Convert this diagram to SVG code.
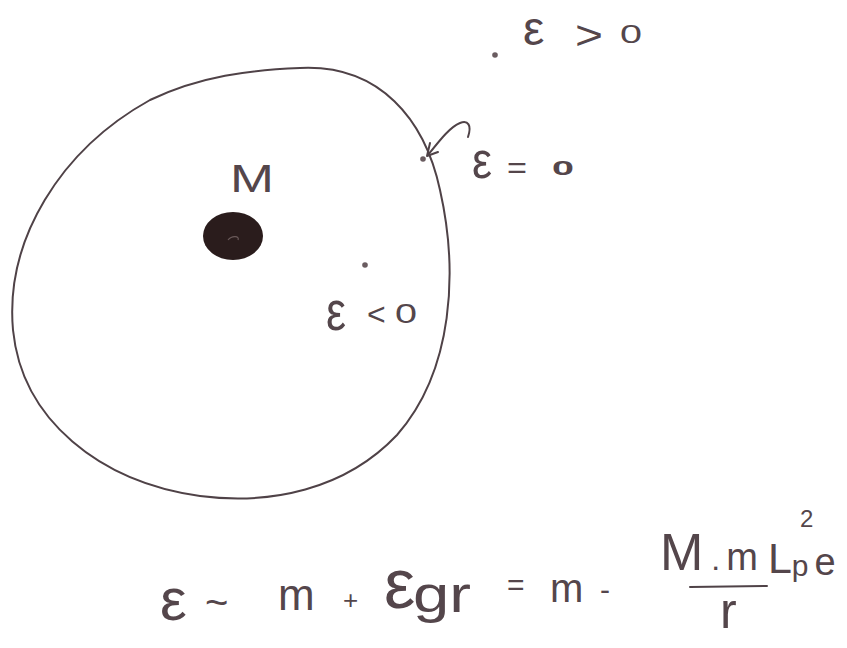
<svg xmlns="http://www.w3.org/2000/svg" width="847" height="648" viewBox="0 0 847 648">
<style>
.ink{fill:none;stroke:#4f4247;stroke-width:2;stroke-linecap:round;stroke-linejoin:round}
.t{font-family:"Liberation Sans",Arial,sans-serif;fill:#54464b}
.dot{fill:#6a5c60}
</style>
<rect width="847" height="648" fill="#ffffff"/>
<g id="boundary">
<path class="ink" d="M 300 68 C 380 64, 425 120, 440 190 C 458 270, 454 370, 397 435 C 345 490, 270 505, 200 496 C 100 482, 22 420, 13 330 C 5 240, 60 150, 150 100 C 200 76, 250 70, 300 68 Z"/>
</g>
<g id="mass">
<ellipse cx="233" cy="236" rx="30" ry="24" fill="#2a1c1c"/>
<path d="M 228 240 C 232 235, 240 236, 238 240" fill="none" stroke="#6a5a5a" stroke-width="1.2"/>
<text class="t" x="230" y="192" font-size="38" textLength="44" lengthAdjust="spacingAndGlyphs">M</text>
</g>
<g id="outside">
<circle class="dot" cx="495" cy="55" r="2.8"/>
<text class="t" x="523" y="45" font-size="48">ε</text>
<text class="t" x="575" y="49" font-size="40" textLength="28" lengthAdjust="spacingAndGlyphs">&gt;</text>
<text class="t" x="620" y="43" font-size="26" textLength="22" lengthAdjust="spacingAndGlyphs">0</text>
</g>
<g id="onboundary">
<circle class="dot" cx="423" cy="159" r="2.8"/>
<path class="ink" d="M 468 137 C 472 125, 468 120, 460 123 C 450 127, 440 140, 428 155"/>
<path class="ink" d="M 430 143 L 427 156 L 438 152"/>
<text class="t" x="472" y="178" font-size="52" textLength="20" lengthAdjust="spacingAndGlyphs">ε</text>
<text class="t" x="507" y="178" font-size="30" textLength="20" lengthAdjust="spacingAndGlyphs">=</text>
<text class="t" x="552" y="175" font-size="21" font-weight="bold" textLength="22" lengthAdjust="spacingAndGlyphs">0</text>
</g>
<g id="inside">
<circle class="dot" cx="365" cy="265" r="2.8"/>
<text class="t" x="326" y="330" font-size="56" textLength="20" lengthAdjust="spacingAndGlyphs">ε</text>
<text class="t" x="367" y="325" font-size="32">&lt;</text>
<text class="t" x="395" y="323" font-size="28" textLength="22" lengthAdjust="spacingAndGlyphs">0</text>
</g>
<g id="formula">
<text class="t" x="160" y="620" font-size="60">ε</text>
<text class="t" x="205" y="616" font-size="40">~</text>
<text class="t" x="278" y="610" font-size="44">m</text>
<text class="t" x="343" y="609" font-size="26">+</text>
<text class="t" x="384" y="608" font-size="70">ε</text>
<text class="t" x="413" y="612" font-size="52" textLength="58" lengthAdjust="spacingAndGlyphs">gr</text>
<text class="t" x="507" y="595" font-size="30">=</text>
<text class="t" x="550" y="602" font-size="40">m</text>
<text class="t" x="600" y="600" font-size="30">-</text>
<text class="t" x="660" y="570" font-size="52">M<tspan font-size="32" dx="8">.</tspan><tspan font-size="38" dx="6">m</tspan><tspan font-size="43" dx="10" dy="3">L</tspan><tspan font-size="30" dy="3">p</tspan><tspan font-size="38" dx="6" dy="-1">e</tspan></text>
<text class="t" x="800" y="527" font-size="24">2</text>
<path class="ink" d="M 690 587 L 767 586"/>
<text class="t" x="720" y="628" font-size="50">r</text>
</g>
</svg>
